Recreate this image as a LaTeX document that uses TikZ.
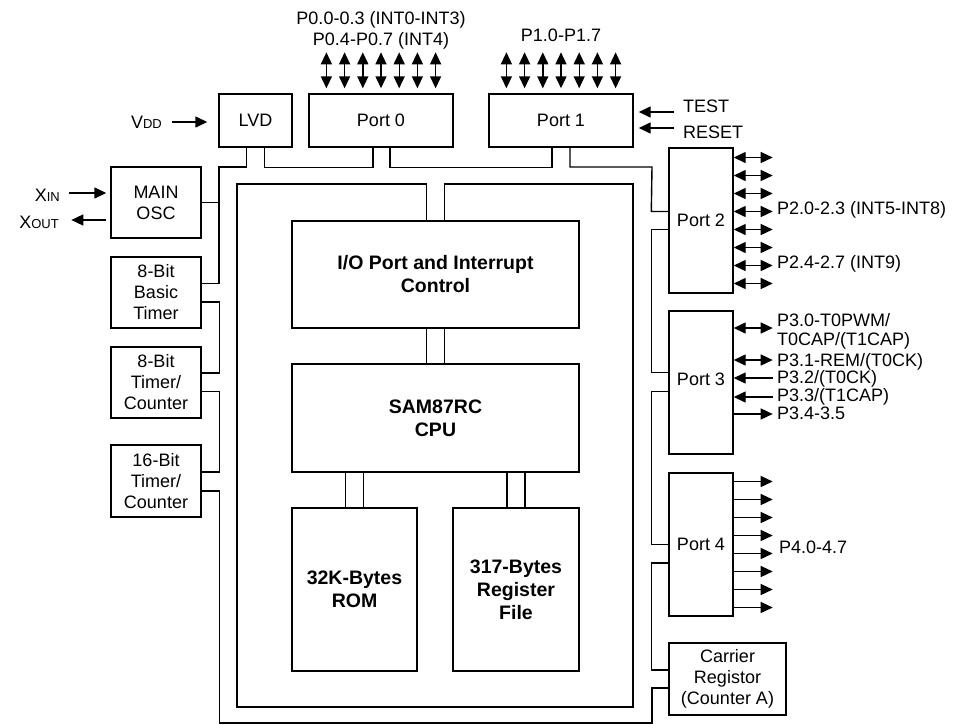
\documentclass[tikz,border=0pt]{standalone}
\usepackage{fontspec}
\setmainfont{Liberation Sans}
\usetikzlibrary{arrows.meta, calc}
\newcommand{\lowcap}[1]{{\fontsize{13}{13}\selectfont #1}}

\begin{document}
\begin{tikzpicture}[x=1pt, y=-1pt,
  box/.style={draw, line width=1.4pt, align=center, inner sep=0pt,
              font=\fontsize{18}{21}\selectfont},
  core/.style={box, font=\fontsize{19.5}{23}\selectfont\bfseries},
  bus/.style={line width=1.4pt},
  sigout/.style={line width=1.4pt, -{Triangle[length=12pt,width=11pt]}},
  sigio/.style={line width=1.4pt,
                {Triangle[length=12pt,width=11pt]}-{Triangle[length=12pt,width=11pt]}},
  lbl/.style={inner sep=0pt, font=\fontsize{18}{21}\selectfont}]
\useasboundingbox (0,0) rectangle (953,724);
% Top row
\node[box, minimum width=73pt, minimum height=53pt] (lvd) at (255.5,120.5) {LVD};
\node[box, minimum width=144pt, minimum height=53pt] (port0) at (381,120.5) {Port 0};
\node[box, minimum width=144pt, minimum height=53pt] (port1) at (561,120.5) {Port 1};
% Left column
\node[box, minimum width=90pt, minimum height=71pt] (osc) at (156,202.5) {MAIN\\OSC};
\node[box, minimum width=90pt, minimum height=71pt] (btimer) at (156,292.5) {8-Bit\\Basic\\Timer};
\node[box, minimum width=90pt, minimum height=71pt] (tc8) at (156,382.5) {8-Bit\\Timer/\\Counter};
\node[box, minimum width=90pt, minimum height=72pt] (tc16) at (156,481) {16-Bit\\Timer/\\Counter};
% Right column
\node[box, minimum width=64pt, minimum height=145pt] (port2) at (701,220.5) {Port 2};
\node[box, minimum width=64pt, minimum height=143pt] (port3) at (701,382.5) {\raisebox{7pt}{Port 3}};
\node[box, minimum width=64pt, minimum height=143pt] (port4) at (701,544.5) {Port 4};
\node[box, minimum width=117pt, minimum height=72pt] (carrier) at (727.5,679) {Carrier\\Registor\\(Counter A)};
% Core
\node[core, minimum width=287pt, minimum height=107pt] (io) at (435.5,274.5) {I/O Port and Interrupt\\Control};
\node[core, minimum width=287pt, minimum height=108pt] (cpu) at (435.5,418) {SAM87RC\\CPU};
\node[core, minimum width=125pt, minimum height=163pt] (rom) at (354.5,589.5) {32K-Bytes\\ROM};
\node[core, minimum width=126pt, minimum height=163pt] (regf) at (516,589.5) {317-Bytes\\Register\\File};
% Bus corners
\coordinate (otl) at (219,167);
\coordinate (otr) at (652,167);
\coordinate (obr) at (652,723);
\coordinate (itl) at (237,184);
\coordinate (ibr) at (633,707);
% Outer bus
\draw[bus] ($(lvd.south)+(-9,0)$) |- (otl) |- ($(btimer.east)+(0,-9)$);
\draw[bus] (osc.east) -- (osc.east -| otl);
\draw[bus] ($(btimer.east)+(0,9.5)$) -- ++(18,0) |- ($(tc8.east)+(0,-9.5)$);
\draw[bus] ($(tc8.east)+(0,9)$) -- ++(18,0) |- ($(tc16.east)+(0,-9)$);
\draw[bus] ($(tc16.east)+(0,10)$) -- ++(18,0) |- (obr) |- ($(carrier.west)+(0,9)$);
\draw[bus] ($(carrier.west)+(0,-9)$) -- ++(-17,0) |- ($(port4.west)+(0,18.5)$);
\draw[bus] (port4.west) -- ++(-17,0) |- ($(port3.west)+(0,9)$);
\draw[bus] ($(port3.west)+(0,-10)$) -- ++(-17,0) |- ($(port2.west)+(0,9)$);
\draw[bus] ($(port2.west)+(0,-9)$) -- ++(-17,0) -- (otr) -| ($(port1.south)+(9,0)$);
\draw[bus] ($(port1.south)+(-9,0)$) -- ++(0,20) -| ($(port0.south)+(9,0)$);
\draw[bus] ($(port0.south)+(-8,0)$) -- ++(0,20) -| ($(lvd.south)+(9,0)$);
% Inner bus
\draw[bus] ($(io.north)+(-9,0)$) |- (itl) |- (ibr) -- (ibr |- itl) -| ($(io.north)+(9,0)$);
\foreach \d in {-9,9} {
  \draw[bus] ($(io.south)+(\d,0)$) -- ($(cpu.north)+(\d,0)$);
  \draw[bus] ($(rom.north)+(\d,0)$) -- ($(cpu.south -| rom.north)+(\d,0)$);
  \draw[bus] ($(regf.north)+(\d,0)$) -- ($(cpu.south -| regf.north)+(\d,0)$);
}
% Port pins
\foreach \p in {port0,port1}
  \foreach \k in {-3,...,3}
    \draw[sigio] ($(\p.north)+(18.2*\k,-5)$) -- ($(\p.north)+(18.2*\k,-41)$);
\foreach \k in {0,...,7} {
  \draw[sigio] ($(port2.east)+(0,18*\k-63)$) -- ++(39,0);
  \draw[sigout] ($(port4.east)+(0,18*\k-63)$) -- ++(39,0);
}
\draw[sigio] ($(port3.east)+(0,-54.5)$) -- ++(39,0);
\draw[sigio] ($(port3.east)+(0,-22.5)$) -- ++(39,0);
\draw[sigout] ($(port3.east)+(39,-4.5)$) -- ($(port3.east)+(0,-4.5)$);
\draw[sigout] ($(port3.east)+(39,14.5)$) -- ($(port3.east)+(0,14.5)$);
\draw[sigout] ($(port3.east)+(0,31.5)$) -- ++(39,0);
% Control inputs
\draw[sigout] ($(port1.east)+(40,-8.5)$) -- ($(port1.east)+(5,-8.5)$);
\draw[sigout] ($(port1.east)+(40,7.5)$) -- ($(port1.east)+(5,7.5)$);
\draw[sigout] ($(lvd.west)+(-46,1.5)$) -- ($(lvd.west)+(-11,1.5)$);
\draw[sigout] ($(osc.west)+(-41,-9.5)$) -- ($(osc.west)+(-4,-9.5)$);
\draw[sigout] ($(osc.west)+(-4,17.5)$) -- ($(osc.west)+(-39,17.5)$);
% Labels
\node[lbl, anchor=base] (p0a) at (381,24.5) {P0.0-0.3 (INT0-INT3)};
\node[lbl, anchor=base] (p0b) at (381,45) {P0.4-P0.7 (INT4)};
\node[lbl, anchor=base] (p1) at (561,41.5) {P1.0-P1.7};
\node[lbl, anchor=base west] (test) at (683,112.5) {TEST};
\node[lbl, anchor=base west] (reset) at (683,138.5) {RESET};
\node[lbl, anchor=base east] (vdd) at (162,128.5) {V\lowcap{DD}};
\node[lbl, anchor=base east] (xin) at (60,201.5) {X\lowcap{IN}};
\node[lbl, anchor=base east] (xout) at (59,228.5) {X\lowcap{OUT}};
\node[lbl, anchor=base west] (p2a) at (777,214.5) {P2.0-2.3 (INT5-INT8)};
\node[lbl, anchor=base west] (p2b) at (777,268.5) {P2.4-2.7 (INT9)};
\node[lbl, anchor=base west] (p30) at (777,326.5) {P3.0-T0PWM/};
\node[lbl, anchor=base west] (p30b) at (777,345.5) {T0CAP/(T1CAP)};
\node[lbl, anchor=base west] (p31) at (777,366.5) {P3.1-REM/(T0CK)};
\node[lbl, anchor=base west] (p32) at (777,383.5) {P3.2/(T0CK)};
\node[lbl, anchor=base west] (p33) at (777,401.5) {P3.3/(T1CAP)};
\node[lbl, anchor=base west] (p34) at (777,419.5) {P3.4-3.5};
\node[lbl, anchor=base west] (p4) at (779,553.5) {P4.0-4.7};
\end{tikzpicture}
\end{document}
